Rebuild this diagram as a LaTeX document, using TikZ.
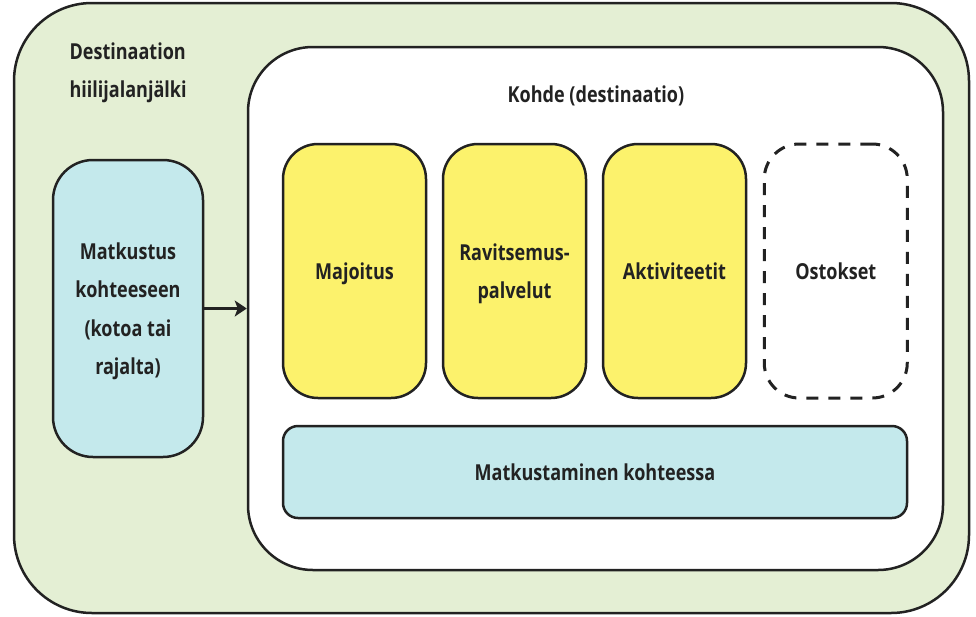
\documentclass[tikz,border=0pt]{standalone}
\usepackage{fontspec}
\setmainfont{Open Sans}[FakeStretch=0.82, BoldFont={Open Sans Bold}]
\usetikzlibrary{arrows.meta, positioning}
\definecolor{mainBlack}{HTML}{222222}
\definecolor{footGreen}{HTML}{E4EFD4}
\definecolor{travelBlue}{HTML}{C4E9EC}
\definecolor{serviceYellow}{HTML}{FCF26C}

\begin{document}
\begin{tikzpicture}[x=1pt, y=-1pt, >=Stealth,
    txt/.style={font=\fontsize{22}{38.5}\selectfont\bfseries, text=mainBlack, align=center},
    frame/.style={draw=mainBlack, line width=2.5pt},
    service/.style={frame, txt, fill=serviceYellow, rounded corners=35pt,
        minimum width=143pt, minimum height=254pt, inner sep=0pt, text depth=0pt}]
    \useasboundingbox (0,0) rectangle (976,616);

    \node[frame, fill=footGreen, rounded corners=78pt, minimum width=955pt,
        minimum height=610pt] (foot) at (491.5,308) {};
    \node[txt, align=left, anchor=west] (footlbl) at (66,73) {Destinaation\\hiilijalanjälki};

    \node[frame, fill=white, rounded corners=65pt, minimum width=695pt,
        minimum height=523pt] (dest) at (595.5,308.5) {};
    \node[txt] (destlbl) at (596,96) {Kohde (destinaatio)};

    \node[frame, txt, fill=travelBlue, rounded corners=40pt, minimum width=150pt,
        minimum height=297pt, text depth=0pt] (trav) at (128,308.5) {Matkustus\\kohteeseen\\(kotoa tai\\rajalta)};

    \node[service] (majo) at (354.5,271) {Majoitus};
    \node[service, right=14.5pt of majo] (ravi) {Ravitsemus-\\palvelut};
    \node[service, right=14.5pt of ravi] (akti) {Aktiviteetit};
    \node[service, right=15.5pt of akti, fill=white, line width=3pt,
        dash pattern=on 12pt off 10pt] (osto) {Ostokset};

    \node[frame, txt, fill=travelBlue, rounded corners=15pt, minimum width=624pt,
        minimum height=92pt] (liik) at (595,472) {Matkustaminen kohteessa};

    \draw[-{Stealth[length=12pt, width=16pt, inset=3pt]}, mainBlack, line width=3pt] (trav.east) -- (dest.west);
\end{tikzpicture}
\end{document}
